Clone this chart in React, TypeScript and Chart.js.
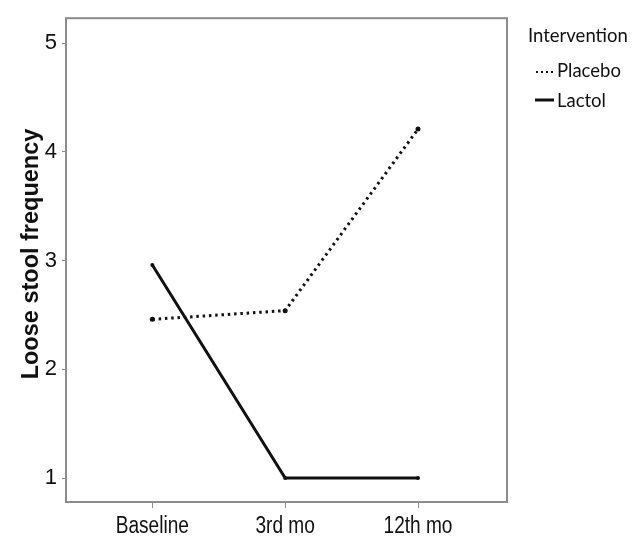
import React, { useEffect, useRef } from "react";
import { Chart, registerables } from "chart.js";

Chart.register(...registerables);

const categories = ["Baseline", "3rd mo", "12th mo"];
const placebo = [2.46, 2.54, 4.21];
const lactol = [2.96, 1.0, 1.0];
const yTicks = [1, 2, 3, 4, 5];
const yTitle = "Loose stool frequency";
const legendTitle = "Intervention";
const seriesNames = ["Placebo", "Lactol"];

const sans = "'Liberation Sans', Arial, sans-serif";

export default function App() {
  const ref = useRef<HTMLCanvasElement | null>(null);
  useEffect(() => {
    if (!ref.current) return;
    const framePlugin = {
      id: "frame",
      afterDraw(chart: any) {
        const { ctx, chartArea } = chart;
        ctx.save();
        ctx.strokeStyle = "#8c8c8c";
        ctx.lineWidth = 2;
        ctx.strokeRect(chartArea.left, chartArea.top, chartArea.right - chartArea.left, chartArea.bottom - chartArea.top);
        ctx.restore();
        // x category labels (condensed, as in the reference)
        const xs = chart.scales.x;
        ctx.save();
        ctx.fillStyle = "#111";
        ctx.font = `23px ${sans}`;
        ctx.textAlign = "center";
        ctx.textBaseline = "alphabetic";
        categories.forEach((c, i) => {
          ctx.save();
          ctx.translate(xs.getPixelForValue(i), 533);
          ctx.scale(0.83, 1);
          ctx.fillText(c, 0, 0);
          ctx.restore();
        });
        ctx.restore();
        // y title
        ctx.save();
        ctx.fillStyle = "#111";
        ctx.font = `bold 23.5px ${sans}`;
        ctx.textAlign = "center";
        ctx.textBaseline = "alphabetic";
        ctx.translate(38, 254);
        ctx.rotate(-Math.PI / 2);
        ctx.fillText(yTitle, 0, 0);
        ctx.restore();
        // legend
        ctx.save();
        ctx.fillStyle = "#111";
        ctx.font = "18.5px Lato, sans-serif";
        ctx.textAlign = "left";
        ctx.textBaseline = "alphabetic";
        ctx.fillText(legendTitle, 528, 42);
        ctx.fillText(seriesNames[0], 557, 77);
        ctx.fillText(seriesNames[1], 557, 107);
        ctx.strokeStyle = "#111";
        ctx.lineWidth = 2;
        ctx.setLineDash([2, 3]);
        ctx.beginPath();
        ctx.moveTo(536, 72);
        ctx.lineTo(556, 72);
        ctx.stroke();
        ctx.setLineDash([]);
        ctx.lineWidth = 3;
        ctx.beginPath();
        ctx.moveTo(535, 100);
        ctx.lineTo(554, 100);
        ctx.stroke();
        ctx.restore();
      },
    };
    const chart = new Chart(ref.current, {
      type: "line",
      data: {
        datasets: [
          {
            label: seriesNames[0],
            data: placebo.map((v, i) => ({ x: i, y: v })),
            borderColor: "#111",
            backgroundColor: "#111",
            borderWidth: 3,
            borderDash: [2.5, 3.8],
            pointRadius: 2.5,
            pointBorderWidth: 0,
          },
          {
            label: seriesNames[1],
            data: lactol.map((v, i) => ({ x: i, y: v })),
            borderColor: "#111",
            backgroundColor: "#111",
            borderWidth: 3,
            pointRadius: 2,
            pointBorderWidth: 0,
          },
        ],
      },
      options: {
        responsive: false,
        animation: false,
        layout: { padding: { left: 0, right: 137, top: 15, bottom: 0 } },
        plugins: { legend: { display: false }, tooltip: { enabled: false } },
        scales: {
          x: {
            type: "linear",
            min: -0.65,
            max: 2.67,
            afterBuildTicks: (s: any) => {
              s.ticks = categories.map((_, i) => ({ value: i }));
            },
            afterFit: (s: any) => {
              s.height = 57;
            },
            grid: { drawOnChartArea: false, drawTicks: true, tickLength: 6, color: "#8c8c8c", lineWidth: 1 },
            border: { display: false },
            ticks: {
              display: false,
              callback: (v: any) => categories[Number(v)] ?? "",
            },
          },
          y: {
            type: "linear",
            min: 0.78,
            max: 5.23,
            afterBuildTicks: (s: any) => {
              s.ticks = yTicks.map((v) => ({ value: v }));
            },
            afterFit: (s: any) => {
              s.width = 66;
            },
            grid: { drawOnChartArea: false, drawTicks: true, tickLength: 4, color: "#8c8c8c", lineWidth: 1 },
            border: { display: false },
            ticks: {
              color: "#111",
              font: { family: sans, size: 22 },
              padding: 5,
            },
          },
        },
      },
      plugins: [framePlugin],
    });
    return () => chart.destroy();
  }, []);
  return (
    <div style={{ position: "fixed", left: 0, top: 0, width: 644, height: 559, background: "#fff" }}>
      <canvas ref={ref} width={644} height={559} />
    </div>
  );
}
